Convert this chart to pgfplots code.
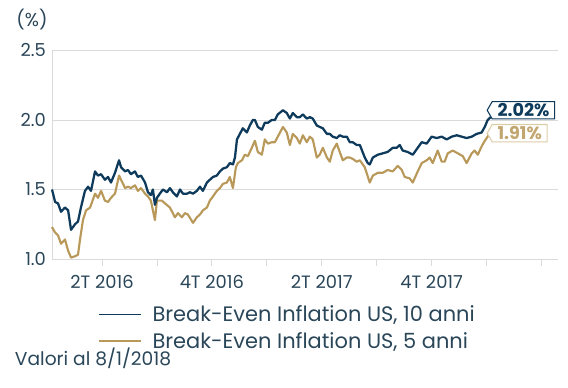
\documentclass[border=0pt]{standalone}
\usepackage{pgfplots}
\pgfplotsset{compat=1.18}
\usepackage{pgfplotstable}
\usepackage{fontspec}
\setmainfont{Poppins}
\usetikzlibrary{shapes.symbols}
\definecolor{blueline}{HTML}{0E3A5C}
\definecolor{goldline}{HTML}{B9995A}
\definecolor{goldtext}{HTML}{C2A66F}
\definecolor{goldbox}{HTML}{DCCDA6}
\definecolor{textc}{HTML}{2A4659}
\definecolor{gridc}{HTML}{DADADA}

% x = months since 1 Jan 2016
\pgfplotstableread{
m     v
0.27  1.50
0.44  1.41
0.60  1.40
0.76  1.34
0.98  1.37
1.15  1.35
1.31  1.21
1.53  1.25
1.69  1.27
1.85  1.37
2.07  1.49
2.24  1.52
2.40  1.49
2.62  1.63
2.78  1.60
2.95  1.61
3.16  1.57
3.33  1.59
3.49  1.55
3.71  1.62
3.93  1.71
4.04  1.66
4.26  1.63
4.42  1.64
4.58  1.61
4.80  1.63
4.96  1.59
5.13  1.60
5.35  1.55
5.51  1.48
5.67  1.46
5.78  1.50
5.89  1.39
6.00  1.44
6.16  1.47
6.33  1.50
6.55  1.48
6.71  1.51
6.87  1.48
7.09  1.45
7.26  1.50
7.42  1.47
7.64  1.47
7.80  1.48
7.97  1.47
8.18  1.49
8.35  1.52
8.51  1.49
8.73  1.55
8.89  1.57
9.06  1.59
9.27  1.60
9.44  1.63
9.60  1.65
9.82  1.66
9.98  1.69
10.15 1.68
10.26 1.73
10.37 1.86
10.53 1.90
10.69 1.94
10.91 1.91
11.07 1.96
11.24 2.00
11.35 2.00
11.51 1.95
11.73 1.93
11.89 1.98
12.06 1.98
12.27 2.00
12.44 2.00
12.60 2.04
12.88 2.07
13.09 2.05
13.26 2.01
13.42 2.05
13.64 2.02
13.80 2.02
13.97 2.04
14.18 2.01
14.35 2.02
14.51 2.01
14.73 1.96
14.89 1.95
15.06 1.94
15.28 1.90
15.44 1.90
15.60 1.88
15.82 1.87
15.98 1.89
16.15 1.88
16.37 1.88
16.53 1.84
16.69 1.84
16.91 1.82
17.08 1.82
17.35 1.73
17.51 1.69
17.62 1.68
17.79 1.73
18.06 1.75
18.33 1.76
18.60 1.77
18.88 1.80
19.09 1.80
19.26 1.82
19.42 1.78
19.69 1.77
19.97 1.75
20.24 1.80
20.46 1.84
20.73 1.83
21.00 1.88
21.28 1.87
21.55 1.88
21.82 1.86
22.10 1.88
22.37 1.89
22.64 1.88
22.91 1.87
23.19 1.88
23.46 1.90
23.73 1.91
23.90 1.95
24.06 2.00
24.22 2.02
}\tenyear

\pgfplotstableread{
m     v
0.27  1.23
0.44  1.19
0.60  1.17
0.76  1.11
0.98  1.14
1.15  1.06
1.31  1.01
1.53  1.02
1.69  1.03
1.80  1.14
1.96  1.28
2.13  1.35
2.35  1.37
2.62  1.47
2.78  1.44
2.95  1.49
3.16  1.42
3.33  1.41
3.49  1.44
3.71  1.47
3.93  1.60
4.04  1.57
4.26  1.51
4.42  1.52
4.58  1.51
4.80  1.53
4.96  1.49
5.13  1.51
5.35  1.47
5.51  1.45
5.67  1.42
5.89  1.28
6.00  1.42
6.27  1.42
6.44  1.40
6.71  1.37
6.98  1.30
7.15  1.33
7.36  1.30
7.53  1.33
7.69  1.32
7.97  1.26
8.18  1.30
8.35  1.32
8.51  1.35
8.73  1.37
8.89  1.42
9.06  1.45
9.27  1.49
9.44  1.51
9.60  1.54
9.82  1.55
9.98  1.59
10.15 1.51
10.31 1.66
10.42 1.69
10.64 1.71
10.80 1.75
10.97 1.74
11.18 1.80
11.35 1.85
11.51 1.77
11.73 1.75
11.89 1.86
12.06 1.83
12.27 1.84
12.44 1.84
12.60 1.88
12.88 1.95
13.09 1.91
13.26 1.82
13.42 1.90
13.64 1.87
13.80 1.83
13.97 1.89
14.18 1.84
14.35 1.88
14.51 1.86
14.73 1.73
14.89 1.75
15.06 1.80
15.28 1.73
15.44 1.70
15.60 1.78
15.82 1.83
15.98 1.77
16.15 1.71
16.37 1.73
16.53 1.73
16.69 1.72
16.91 1.70
17.08 1.71
17.35 1.66
17.62 1.55
17.79 1.60
18.06 1.62
18.33 1.62
18.60 1.64
18.88 1.63
19.15 1.67
19.37 1.64
19.53 1.59
19.80 1.58
19.97 1.55
20.24 1.63
20.46 1.69
20.73 1.71
20.89 1.73
21.06 1.69
21.33 1.78
21.55 1.70
21.71 1.70
21.88 1.76
22.15 1.78
22.43 1.76
22.70 1.74
22.91 1.69
23.19 1.76
23.35 1.78
23.52 1.75
23.73 1.81
23.90 1.85
24.06 1.88
24.22 1.91
}\fiveyear

\begin{document}
\begin{tikzpicture}[x=1pt,y=1pt]
\path[use as bounding box] (0,0) rectangle (426,291);
\begin{axis}[
  at={(39pt,96.75pt)}, anchor=south west,
  scale only axis, width=379.5pt, height=156.4pt,
  xmin=0.27, xmax=27.9, ymin=1, ymax=2.5,
  axis x line*=bottom, axis y line*=left,
  axis line style={draw=gridc, line width=0.6pt},
  xtick={3,6,...,27},
  xticklabels={2T 2016,,4T 2016,,2T 2017,,4T 2017,},
  ytick={1,1.5,2,2.5},
  ymajorgrids, grid style={draw=gridc, line width=0.6pt},
  x tick style={draw=gridc, line width=0.6pt},
  xtick align=outside, major tick length=5pt,
  y tick style={draw=none},
  tick label style={font=\fontsize{13.4}{15}\selectfont, text=textc},
  yticklabel style={xshift=-1pt},
  xticklabel style={yshift=-3.5pt},
  /pgf/number format/.cd, fixed, fixed zerofill, precision=1, assume math mode=true,
  /pgfplots/.cd,
  clip=false,
  legend style={at={(0.09,-0.218)}, anchor=north west, draw=none, fill=none,
    font=\fontsize{15.7}{17}\selectfont, text=textc, row sep=5.5pt,
    inner sep=0pt, nodes={inner sep=0.5pt}},
  legend cell align=left,
  legend image code/.code={\draw[#1] (0pt,0pt) -- (31.5pt,0pt); \path[draw=none, fill=none] (0pt,-5pt) rectangle (40pt,0pt);},
]
\addplot[goldline, line width=1.6pt, line join=round, forget plot] table[x=m,y=v] {\fiveyear};
\addplot[blueline, line width=1.7pt, line join=round, forget plot] table[x=m,y=v] {\tenyear};
\addlegendimage{blueline, line width=1.2pt}
\addlegendentry{Break-Even Inflation US, 10 anni}
\addlegendimage{goldline, line width=1.2pt}
\addlegendentry{Break-Even Inflation US, 5 anni}
\node[signal, signal to=west, signal pointer angle=120, draw=blueline, line width=0.8pt,
  fill=white, anchor=west, text=blueline, font=\bfseries\fontsize{13.2}{15}\selectfont,
  inner xsep=4pt, inner ysep=1.5pt] at (axis cs:24.0,2.07) {2.02\%};
\node[signal, signal to=west, signal pointer angle=120, draw=goldbox, line width=0.8pt,
  fill=white, anchor=west, text=goldtext, font=\bfseries\fontsize{13.2}{15}\selectfont,
  inner xsep=4pt, inner ysep=1.5pt] at (axis cs:24.0,1.905) {1.91\%};
\end{axis}
\node[text=textc, font=\fontsize{14}{16}\selectfont] at (24,276) {(\%)};
\node[anchor=base west, text=textc, font=\fontsize{14}{16}\selectfont, inner sep=0pt] at (11,17) {Valori al 8/1/2018};
\end{tikzpicture}
\end{document}
